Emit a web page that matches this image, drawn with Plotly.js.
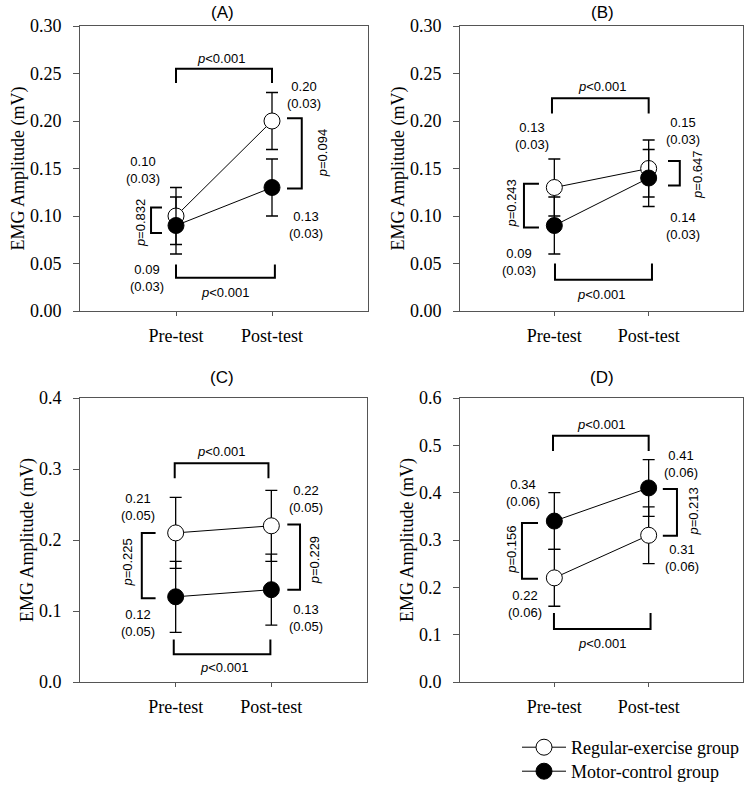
<!DOCTYPE html>
<html>
<head>
<meta charset="utf-8">
<script src="https://cdn.plot.ly/plotly-3.0.1.min.js"></script>
<style>html,body{margin:0;padding:0;background:#fff}#chart{width:750px;height:794px}</style>
</head>
<body>
<div id="chart"></div>
<script>
// ---------- data ----------
const categories = ['Pre-test', 'Post-test'];
const groupNames = ['Regular-exercise group', 'Motor-control group'];
const panelLabels = ['(A)', '(B)', '(C)', '(D)'];
const yAxisTitle = 'EMG Amplitude (mV)';

const regA = [0.10, 0.20], regSdA = [0.03, 0.03];
const motA = [0.09, 0.13], motSdA = [0.03, 0.03];
const regB = [0.13, 0.15], regSdB = [0.03, 0.03];
const motB = [0.09, 0.14], motSdB = [0.03, 0.03];
const regC = [0.21, 0.22], regSdC = [0.05, 0.05];
const motC = [0.12, 0.13], motSdC = [0.05, 0.05];
const regD = [0.22, 0.31], regSdD = [0.06, 0.06];
const motD = [0.34, 0.41], motSdD = [0.06, 0.06];

// p-values: [time effect top, time effect bottom, group diff pre, group diff post]
const pA = ['<0.001', '<0.001', '=0.832', '=0.094'];
const pB = ['<0.001', '<0.001', '=0.243', '=0.647'];
const pC = ['<0.001', '<0.001', '=0.225', '=0.229'];
const pD = ['<0.001', '<0.001', '=0.156', '=0.213'];

// y-axis settings per panel
const yMax = [0.30, 0.30, 0.4, 0.6];
const yStep = [0.05, 0.05, 0.1, 0.1];
const yFmt = ['.2f', '.2f', '.1f', '.1f'];

// ---------- layout geometry (not data) ----------
const W = 750, H = 794;
const serif = 'Liberation Serif, Times New Roman, serif';
const sans = 'Liberation Sans, Arial, sans-serif';
const axisColor = '#555';
const panelsGeom = [
  {xd: [80, 368], yd: [26, 311], titleX: 222, titleY: 12},
  {xd: [460, 743], yd: [26, 311], titleX: 602, titleY: 12},
  {xd: [80, 367], yd: [398, 682], titleX: 222, titleY: 377},
  {xd: [460, 743], yd: [398, 682], titleX: 602, titleY: 377}
];
// annotation/bracket placements, in data units of each panel
// labels: [regPre, regPost, motPre, motPost] positions [x,y]
const deco = [
  { top: [0, 1, 0.255, 0.24], bot: [0.0, 1.03, 0.035, 0.049],
    left: [-0.26, -0.146, 0.082, 0.109], right: [1.31, 1.156, 0.129, 0.203],
    pPre: [-0.375, 0.0925], pPost: [1.52, 0.166], pTop: [0.47, 0.266], pBot: [0.51, 0.019],
    lab: [[-0.344, 0.148], [1.33, 0.227], [-0.30, 0.035], [1.354, 0.0905]] },
  { top: [-0.025, 1.0, 0.224, 0.208], bot: [0.007, 1.035, 0.033, 0.05],
    left: [-0.322, -0.163, 0.088, 0.134], right: [1.33, 1.205, 0.132, 0.158],
    pPre: [-0.45, 0.113], pPost: [1.51, 0.143], pTop: [0.505, 0.236], pBot: [0.495, 0.017],
    lab: [[-0.237, 0.184], [1.364, 0.19], [-0.375, 0.052], [1.364, 0.09]] },
  { top: [-0.01, 0.97, 0.308, 0.287], bot: [-0.02, 0.99, 0.039, 0.06],
    left: [-0.354, -0.21, 0.118, 0.21], right: [1.30, 1.167, 0.13, 0.222],
    pPre: [-0.5, 0.168], pPost: [1.45, 0.172], pTop: [0.47, 0.325], pBot: [0.5, 0.02],
    lab: [[-0.396, 0.246], [1.365, 0.258], [-0.396, 0.083], [1.365, 0.09]] },
  { top: [-0.014, 1.0, 0.52, 0.488], bot: [-0.004, 1.02, 0.112, 0.146],
    left: [-0.343, -0.173, 0.218, 0.336], right: [1.30, 1.15, 0.309, 0.408],
    pPre: [-0.45, 0.279], pPost: [1.48, 0.36], pTop: [0.495, 0.545], pBot: [0.505, 0.082],
    lab: [[-0.31, 0.165], [1.353, 0.262], [-0.332, 0.40], [1.343, 0.46]] }
];

const regs = [regA, regB, regC, regD];
const regSds = [regSdA, regSdB, regSdC, regSdD];
const mots = [motA, motB, motC, motD];
const motSds = [motSdA, motSdB, motSdC, motSdD];
const ps = [pA, pB, pC, pD];

const legendBase = {xanchor: 'left', yanchor: 'top',
  font: {family: serif, size: 18, color: '#000'}, bgcolor: 'rgba(0,0,0,0)',
  itemwidth: 44, tracegroupgap: 0};

const traces = [];
const layout = {
  width: W, height: H,
  margin: {l: 0, r: 0, t: 0, b: 0},
  paper_bgcolor: '#fff', plot_bgcolor: '#fff',
  showlegend: true,
  legend: Object.assign({x: 517 / W, y: 1 - 729 / H}, legendBase),
  legend2: Object.assign({x: 517 / W, y: 1 - 753 / H}, legendBase),
  shapes: [], annotations: []
};

function fmt(v) { return v.toFixed(2); }

for (let i = 0; i < 4; i++) {
  const g = panelsGeom[i];
  const sfx = i === 0 ? '' : String(i + 1);
  const xa = 'x' + sfx, ya = 'y' + sfx;
  layout['xaxis' + sfx] = {
    domain: [g.xd[0] / W, g.xd[1] / W], anchor: ya, type: 'category',
    range: [-1, 2], showline: true, mirror: true, linecolor: axisColor, linewidth: 1,
    ticks: 'outside', ticklen: 4, tickcolor: axisColor, showgrid: false, zeroline: false,
    ticklabelstandoff: 4,
    tickfont: {family: serif, size: 18, color: '#000'}, fixedrange: true
  };
  layout['yaxis' + sfx] = {
    domain: [1 - g.yd[1] / H, 1 - g.yd[0] / H], anchor: xa,
    range: [0, yMax[i]], dtick: yStep[i], tick0: 0, tickformat: yFmt[i],
    showline: true, mirror: true, linecolor: axisColor, linewidth: 1,
    ticks: 'outside', ticklen: 6, tickcolor: axisColor, showgrid: false, zeroline: false,
    ticklabelstandoff: 8,
    tickfont: {family: serif, size: 18, color: '#000'}, fixedrange: true,
    title: {text: yAxisTitle, font: {family: serif, size: 18, color: '#000'}, standoff: 0}
  };

  const common = {xaxis: xa, yaxis: ya, type: 'scatter', mode: 'lines+markers', x: categories,
    line: {color: '#000', width: 1}, hoverinfo: 'skip'};
  traces.push(Object.assign({}, common, {
    y: regs[i], name: groupNames[0], showlegend: i === 0, legend: 'legend',
    error_y: {type: 'data', array: regSds[i], visible: true, color: '#000', thickness: 1.3, width: 6},
    marker: {symbol: 'circle', size: 16, color: '#fff', line: {color: '#000', width: 1}}
  }));
  traces.push(Object.assign({}, common, {
    y: mots[i], name: groupNames[1], showlegend: i === 0, legend: 'legend2',
    error_y: {type: 'data', array: motSds[i], visible: true, color: '#000', thickness: 1.3, width: 6},
    marker: {symbol: 'circle', size: 16, color: '#000', line: {color: '#000', width: 1}}
  }));

  const d = deco[i];
  const ln = {color: '#000', width: 2};
  const sh = (path) => ({type: 'path', xref: xa, yref: ya, path: path, line: ln});
  layout.shapes.push(sh(`M ${d.top[0]},${d.top[3]} L ${d.top[0]},${d.top[2]} L ${d.top[1]},${d.top[2]} L ${d.top[1]},${d.top[3]}`));
  layout.shapes.push(sh(`M ${d.bot[0]},${d.bot[3]} L ${d.bot[0]},${d.bot[2]} L ${d.bot[1]},${d.bot[2]} L ${d.bot[1]},${d.bot[3]}`));
  layout.shapes.push(sh(`M ${d.left[1]},${d.left[2]} L ${d.left[0]},${d.left[2]} L ${d.left[0]},${d.left[3]} L ${d.left[1]},${d.left[3]}`));
  layout.shapes.push(sh(`M ${d.right[1]},${d.right[2]} L ${d.right[0]},${d.right[2]} L ${d.right[0]},${d.right[3]} L ${d.right[1]},${d.right[3]}`));

  const af = {family: sans, size: 13, color: '#000'};
  const ann = (x, y, text, extra) => Object.assign({xref: xa, yref: ya, x: x, y: y, text: text,
    showarrow: false, font: af, xanchor: 'center', yanchor: 'middle'}, extra || {});
  const pe = (s) => '<i>p</i>' + s.replace('<', '&lt;');
  layout.annotations.push(ann(d.pTop[0], d.pTop[1], pe(ps[i][0])));
  layout.annotations.push(ann(d.pBot[0], d.pBot[1], pe(ps[i][1])));
  layout.annotations.push(ann(d.pPre[0], d.pPre[1], pe(ps[i][2]), {textangle: -90}));
  layout.annotations.push(ann(d.pPost[0], d.pPost[1], pe(ps[i][3]), {textangle: -90}));
  const vals = [[regs[i][0], regSds[i][0]], [regs[i][1], regSds[i][1]], [mots[i][0], motSds[i][0]], [mots[i][1], motSds[i][1]]];
  for (let k = 0; k < 4; k++) {
    layout.annotations.push(ann(d.lab[k][0], d.lab[k][1], fmt(vals[k][0]) + '<br>(' + fmt(vals[k][1]) + ')'));
  }
  layout.annotations.push({xref: 'paper', yref: 'paper', x: g.titleX / W, y: 1 - g.titleY / H,
    text: panelLabels[i], showarrow: false, xanchor: 'center', yanchor: 'middle',
    font: {family: sans, size: 17, color: '#000'}});
}

Plotly.newPlot('chart', traces, layout, {displayModeBar: false, staticPlot: true});
</script>
</body>
</html>
